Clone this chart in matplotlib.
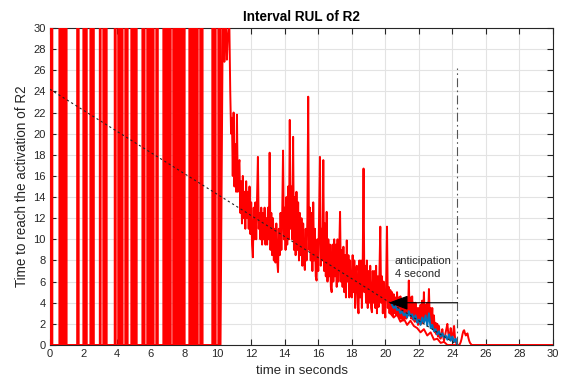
import numpy as np
import matplotlib.pyplot as plt

plt.rcParams['font.family'] = ['Liberation Sans', 'DejaVu Sans']
plt.rcParams['path.simplify'] = False

# early phase: estimate saturates; intervals (seconds) where it sits at the cap
cap = 30
high_intervals = [
    (0.01, 0.07), (0.09, 0.14),
    (0.56, 0.63), (0.65, 0.70), (0.72, 0.77), (0.79, 0.84), (0.86, 0.91), (0.93, 0.99),
    (1.62, 1.71),
    (1.99, 2.06), (2.08, 2.13), (2.15, 2.19),
    (2.41, 2.48), (2.50, 2.55), (2.57, 2.61),
    (2.97, 3.02),
    (3.18, 3.25), (3.27, 3.32), (3.34, 3.38),
    (3.86, 3.92),
    (4.07, 4.14), (4.16, 4.21), (4.23, 4.28), (4.29, 4.33),
    (4.49, 4.56), (4.58, 4.63),
    (4.85, 4.94), (5.03, 5.10), (5.12, 5.17),
    (5.51, 5.58), (5.60, 5.64),
    (5.80, 5.87), (5.89, 5.94), (5.96, 6.01), (6.03, 6.08), (6.10, 6.18),
    (6.34, 6.43),
    (6.76, 6.83), (6.85, 6.90), (6.92, 6.96),
    (7.06, 7.13), (7.15, 7.20),
    (7.35, 7.42), (7.44, 7.49), (7.50, 7.55),
    (7.65, 7.72), (7.74, 7.79), (7.81, 7.86), (7.88, 7.93), (7.95, 8.03),
    (8.31, 8.38), (8.40, 8.45), (8.47, 8.52), (8.54, 8.59), (8.61, 8.66),
    (8.68, 8.73), (8.75, 8.81),
    (8.96, 9.03), (9.05, 9.10),
    (9.68, 9.75), (9.77, 9.82), (9.84, 9.88),
    (10.04, 10.11), (10.13, 10.17),
]

# later phase: RUL estimate sampled every 0.05 s from 10.3 s
est_t0 = 10.3
est_dt = 0.05
est_vals = [
    30, 30, 26.8, 30, 30, 27, 29, 30, 30, 24,
    20, 21.5, 16, 22, 15, 19, 14.5, 21.8, 14.5, 17,
    17.5, 12.5, 15.5, 11.5, 16, 12, 14.5, 11, 15.5, 12,
    14.5, 11, 15, 10.5, 13.5, 9.5, 8.3, 13, 10, 13.5,
    10, 14, 17.8, 11, 12.5, 10, 13, 9.5, 12.5, 10,
    13, 9.5, 12, 9.5, 13, 10, 18.2, 9, 12.5, 8.5,
    12, 8, 11, 7.8, 11.5, 8, 6.9, 11, 8.5, 12.5,
    9, 12.5, 18.4, 10, 13, 9, 14, 9.5, 15, 10,
    21.3, 11, 15, 10, 19.7, 9, 14, 8.5, 14.5, 9,
    13.5, 8, 12.5, 8.5, 12, 7.5, 11.5, 8, 7.1, 11,
    8, 12, 23.5, 9, 13, 8, 12.5, 7, 13.5, 8,
    11, 6.5, 6.1, 10, 7, 12.5, 17.8, 7.5, 11, 8,
    17.5, 7, 11.5, 6.5, 12.6, 6, 10, 6.5, 9.5, 5.5,
    5.0, 9.5, 6, 10, 6.5, 9.5, 5.5, 10, 6, 9,
    12.6, 6, 9, 5.5, 9.3, 5, 8.5, 4.5, 9.9, 6,
    8.5, 4.5, 8, 5, 4.5, 8.5, 5, 8, 3.5, 7,
    7.5, 4, 3.0, 8, 4.5, 8, 3.5, 7.5, 16.7, 5,
    7.5, 4, 8, 3.5, 7, 4, 7.5, 3.5, 3.1, 7,
    4, 7, 3.5, 7.5, 3, 6.5, 3.6, 7, 11.2, 4,
    6.5, 3, 6, 3.5, 2.6, 6, 11.2, 3.5, 5.5, 3,
    5.2, 3, 5, 2.8, 4.8, 3, 4.5, 2.8, 5.0, 2.8,
    4.5, 2.5, 4.6, 2.5, 4, 2.3, 4.2, 2.5, 4.3, 2.5,
    4.5, 2.8, 6.1, 3, 4.5, 2.5, 4.6, 2.4, 4, 2.2,
    4.0, 2.2, 3.5, 1.9, 3.5, 2, 3.8, 2, 4.2, 2.2,
    5.0, 2.5, 3.8, 2.3, 4.0, 2.5, 5.3, 2.5, 3.5, 2,
    3.5, 1.5, 2.8, 1.2, 2.1, 1, 2, 0.8, 1.8, 0.7,
    0.6, 1, 1.5, 0.8, 0.4, 0.8, 1.2, 1.6, 2.0, 1.2,
    0.6, 1, 1.6, 0.8, 0.5, 1.2, 1.8, 0.8, 0.3, 0.1,
    0, 0, 0, 0.1, 0.3, 0.6, 1.0, 1.3, 1.4, 1.1,
    0.9, 1.0, 1.1, 0.7, 0.4, 0.2, 0.1, 0, 0, 0,
]

# lower bound of the interval near the end
low_t = [20.3, 20.5, 20.7, 20.9, 21.1, 21.3, 21.5, 21.7, 21.9, 22.1,
         22.3, 22.5, 22.7, 22.9, 23.1, 23.3, 23.5, 23.7, 24.3]
low_v = [3.0, 2.6, 2.9, 2.2, 2.5, 1.9, 2.3, 1.8, 1.6, 1.2,
         1.5, 0.9, 1.2, 0.5, 0.6, 0.2, 0.3, 0.0, 0.0]

# filtered RUL (blue), every 0.1 s from 20.4 s
blue_t0 = 20.4
blue_vals = [3.8, 3.5, 3.7, 3.3, 3.4, 3.0, 3.2, 2.8, 3.0, 2.6,
             3.2, 2.7, 2.9, 2.4, 2.8, 2.1, 2.4, 1.9, 2.6, 2.1,
             2.8, 1.8, 3.0, 1.6, 1.9, 1.3, 1.5, 1.0, 1.3, 0.8,
             1.1, 0.7, 0.9, 0.5, 1.0, 0.4, 0.8, 0.3, 0.6, 0.0]

# true RUL reference and activation instant
true_t = [0, 24.3]
true_v = [24.2, 0]
t_activation = 24.3
anticipation = 4.0
arrow_tip = 20.2


def step_series(intervals, level):
    t, v = [0.0], [0.0]
    for a, b in intervals:
        t += [a, a, b, b]
        v += [0, level, level, 0]
    return t, v


step_t, step_v = step_series(high_intervals, cap)
est_t = list(np.round(est_t0 + est_dt * np.arange(len(est_vals)), 2))
blue_t = np.round(blue_t0 + 0.1 * np.arange(len(blue_vals)), 2)

red_t = step_t + est_t + [30]
red_v = step_v + est_vals + [0]

fig = plt.figure(figsize=(5.63, 3.84), dpi=100)
ax = fig.add_axes([50 / 563, 39 / 384, 503 / 563, 317 / 384])

ax.plot(red_t, red_v, color='#ff0000', lw=1.4, zorder=3)
ax.plot(low_t, low_v, color='#ff0000', lw=1.4, zorder=3)
ax.plot(blue_t, blue_vals, color='#0072bd', lw=1.4, zorder=4)
ax.plot(true_t, true_v, color='#222222', lw=0.8, ls=(0, (2, 2.5)), zorder=5)

ax.plot([t_activation, t_activation], [0, 26.2], color='#555555', lw=0.8,
        ls=(0, (8, 3, 1.5, 3)), zorder=5)
ax.annotate('', xy=(arrow_tip, anticipation), xytext=(t_activation, anticipation),
            arrowprops=dict(arrowstyle='-|>,head_length=1.2,head_width=0.45',
                            color='black', lw=0.8, mutation_scale=10,
                            shrinkA=0, shrinkB=0), zorder=6)
ax.text(20.57, 8.4, 'anticipation\n4 second', fontsize=8, color='#262626',
        ha='left', va='top', linespacing=1.35, zorder=6)

ax.set_xlim(0, 30)
ax.set_ylim(0, 30)
ax.set_xticks(np.arange(0, 31, 2))
ax.set_yticks(np.arange(0, 31, 2))
ax.grid(True, color='#e3e3e3', lw=0.8)
ax.set_axisbelow(True)
ax.tick_params(direction='in', top=True, right=True, length=4, width=0.8,
               labelsize=8, labelcolor='#262626', color='#262626', pad=3)
for s in ax.spines.values():
    s.set_color('#262626')
    s.set_linewidth(0.8)

ax.set_title('Interval RUL of R2', fontsize=9.75, fontweight='bold', pad=5)
ax.set_xlabel('time in seconds', fontsize=9.5, color='#262626', labelpad=4)
ax.set_ylabel('Time to reach the activation of R2', fontsize=9.75, color='#262626', labelpad=3)

fig.savefig('out.png', dpi=100)
